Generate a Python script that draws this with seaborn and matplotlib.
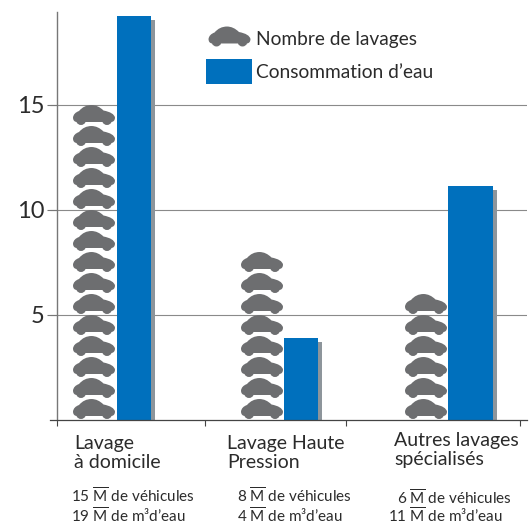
import matplotlib
matplotlib.use('Agg')
import matplotlib.pyplot as plt
import matplotlib.patheffects as pe
from matplotlib.lines import Line2D
from matplotlib.patches import Patch
from matplotlib.path import Path
import numpy as np
import pandas as pd
import seaborn as sns

categories = ['Lavage\nà domicile', 'Lavage Haute\nPression', 'Autres lavages\nspécialisés']
vehicules = [15, 8, 6]
eau = [19.2, 3.9, 11.1]
label_vehicules = [r'15 $\overline{\mathrm{M}}$ de véhicules', r'8 $\overline{\mathrm{M}}$ de véhicules',
                   r'6 $\overline{\mathrm{M}}$ de véhicules']
label_eau = [r'19 $\overline{\mathrm{M}}$ de m³d’eau', r'4 $\overline{\mathrm{M}}$ de m³d’eau',
             r'11 $\overline{\mathrm{M}}$ de m³d’eau']
y_ticks = [5, 10, 15]

W, H = 529, 526
GREY = '#6d6e70'
BLUE = '#0070bd'
TEXT = '#2b2b2b'

sns.set_theme(style='white')
plt.rcParams['font.family'] = ['Lato', 'DejaVu Sans']
plt.rcParams['mathtext.fontset'] = 'custom'
plt.rcParams['mathtext.rm'] = 'Lato'


def car_marker():
    C3 = Path.CURVE3
    L = Path.LINETO
    pts = [
        ((-21, -2.5), Path.MOVETO),
        ((-20.5, 2), C3), ((-15, 4), C3),
        ((-10, 10), C3), ((-2.5, 10), C3),
        ((4, 10), C3), ((9.5, 4.5), C3),
        ((20, 2.5), C3), ((21, -2.5), C3),
        ((21, -6.5), C3), ((17.5, -7), C3),
        ((16.5, -10), C3), ((13, -10), C3),
        ((9.5, -10), C3), ((8.5, -7), C3),
        ((-8.5, -7), L),
        ((-9.5, -10), C3), ((-13, -10), C3),
        ((-16.5, -10), C3), ((-17.5, -7), C3),
        ((-21, -6.5), C3), ((-21, -2.5), C3),
    ]
    return Path([p[0] for p in pts], [p[1] for p in pts])


car = car_marker()

fig = plt.figure(figsize=(W / 100, H / 100), dpi=100)
# axes in pixel units along x, 21 px per unit along y
ax = fig.add_axes([50 / W, 1 - 419.5 / H, 477 / W, (419.5 - 12) / H])

# water bars
bar_left = [117, 284, 448]
bar_width = [34, 34, 45]
df_eau = pd.DataFrame({'x': [l + w / 2 for l, w in zip(bar_left, bar_width)], 'eau': eau})
sns.barplot(data=df_eau, x='x', y='eau', native_scale=True, color=BLUE, saturation=1,
            linewidth=0, edgecolor='none', ax=ax, zorder=2)
for patch, left, width in zip(ax.patches, bar_left, bar_width):
    patch.set_x(left)
    patch.set_width(width)
    patch.set_path_effects([
        pe.SimplePatchShadow(offset=(2.9, -2.9), shadow_rgbFace='#8d959b', alpha=1),
        pe.Normal(),
    ])

# one car per million vehicles
car_x = [94, 262, 426]
df_cars = pd.DataFrame({
    'x': np.repeat(car_x, vehicules),
    'y': np.concatenate([np.arange(n) + 0.5 for n in vehicules]),
})
sns.scatterplot(data=df_cars, x='x', y='y', marker=car, s=914, color=GREY,
                edgecolor='none', linewidth=0, ax=ax, zorder=3)

ax.set_xlim(50, 527)
ax.set_ylim(0, (419.5 - 12) / 21)
ax.set_xlabel('')
ax.set_ylabel('')

ax.set_yticks(y_ticks)
ax.set_xticks([57, 205, 346, 520])
ax.set_xticklabels([])
ax.tick_params(axis='y', left=True, length=7.2, width=0.8, color='#777777', pad=2,
               labelsize=17, labelcolor=TEXT)
for lbl in ax.get_yticklabels():
    lbl.set_va('bottom')
ax.tick_params(axis='x', bottom=True, length=4.5, width=0.8, color='#444444')
ax.yaxis.grid(True, color='#8a8a8a', linewidth=0.8)
ax.set_axisbelow(True)

ax.spines['top'].set_visible(False)
ax.spines['right'].set_visible(False)
ax.spines['left'].set_position(('data', 57))
ax.spines['left'].set_color('#777777')
ax.spines['left'].set_linewidth(1.0)
ax.spines['bottom'].set_color('#444444')
ax.spines['bottom'].set_linewidth(0.9)

handles = [
    Line2D([], [], linestyle='none', marker=car, markersize=30.2, color=GREY, markeredgewidth=0),
    Patch(facecolor=BLUE, edgecolor='none'),
]
ax.legend(handles, ['Nombre de lavages', 'Consommation d’eau'], frameon=False,
          fontsize=13.8, labelcolor=TEXT, handlelength=2.42, handleheight=1.7,
          handletextpad=0.2, labelspacing=0.35, borderpad=0, borderaxespad=0,
          loc='upper left', bbox_to_anchor=((206 - 50) / 477, 1 - (26 - 12) / 407.5))


def px_text(x, y, s, size):
    fig.text(x / W, 1 - y / H, s, fontsize=size, color=TEXT, ha='left', va='center', linespacing=1.2)


for s, x, y in zip(categories, [74, 227, 394], [453, 453, 450]):
    px_text(x, y, s, 14)
for s, x, y in zip(label_vehicules, [71, 237, 397], [496, 496, 498]):
    px_text(x, y, s, 11)
for s, x, y in zip(label_eau, [71, 237, 388], [516.5, 516.5, 516.5]):
    px_text(x, y, s, 11)

fig.savefig('out.png', dpi=100)
